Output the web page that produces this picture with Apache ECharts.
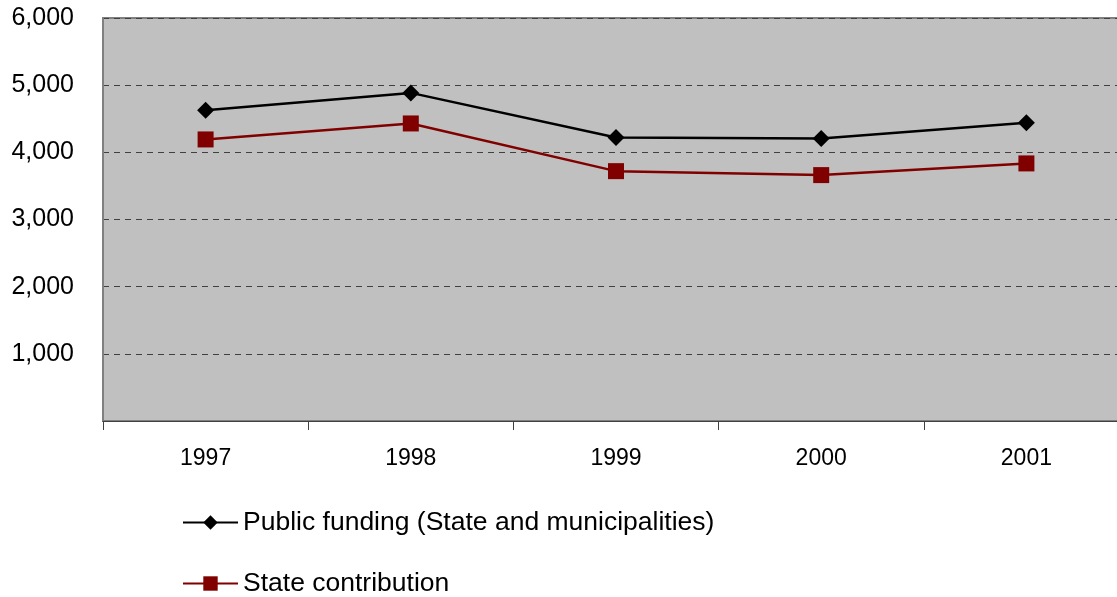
<!DOCTYPE html>
<html>
<head>
<meta charset="utf-8">
<script src="https://cdn.jsdelivr.net/npm/echarts@6/dist/echarts.min.js"></script>
<style>
html,body{margin:0;padding:0;background:#fff;}
#chart{width:1117px;height:597px;}
</style>
</head>
<body>
<div id="chart"></div>
<script>
const years = ['1997', '1998', '1999', '2000', '2001'];
const publicFunding = [4628, 4885, 4222, 4207, 4439];
const stateContribution = [4192, 4430, 3720, 3661, 3835];
const seriesNames = ['Public funding (State and municipalities)', 'State contribution'];

const chart = echarts.init(document.getElementById('chart'));
const font = 'Liberation Sans, Arial, sans-serif';
const legendCommon = {
  orient: 'vertical', left: 182, itemWidth: 55, itemHeight: 18, padding: 0,
  textStyle: { fontSize: 26.5, color: '#000', fontFamily: font }
};
chart.setOption({
  animation: false,
  textStyle: { fontFamily: font },
  grid: { left: 103, right: -12, top: 18, bottom: 176, outerBoundsMode: 'none', show: true, backgroundColor: '#C0C0C0', borderColor: '#808080', borderWidth: 2 },
  legend: [
    Object.assign({}, legendCommon, { top: 509, data: [seriesNames[0]] }),
    Object.assign({}, legendCommon, { top: 570, data: [seriesNames[1]] })
  ],
  xAxis: {
    type: 'category', data: years, boundaryGap: true,
    axisLine: { show: true, lineStyle: { color: '#404040', width: 1 } },
    axisTick: { show: true, length: 9, lineStyle: { color: '#404040' } },
    axisLabel: { fontSize: 23, color: '#000', margin: 26 },
    splitLine: { show: false }
  },
  yAxis: {
    type: 'value', min: 0, max: 6000, interval: 1000,
    axisLine: { show: true, lineStyle: { color: '#808080', width: 2 } },
    axisTick: { show: false },
    axisLabel: {
      fontSize: 25, color: '#000', margin: 29,
      formatter: v => v === 0 ? '' : v.toLocaleString('en-US')
    },
    splitLine: { show: true, lineStyle: { color: '#404040', type: [6, 5], width: 1 } }
  },
  series: [
    {
      name: seriesNames[0], type: 'line', data: publicFunding,
      symbol: 'diamond', symbolSize: 17,
      lineStyle: { color: '#000', width: 2.5 },
      itemStyle: { color: '#000' }
    },
    {
      name: seriesNames[1], type: 'line', data: stateContribution,
      symbol: 'rect', symbolSize: 16,
      lineStyle: { color: '#800000', width: 2.5 },
      itemStyle: { color: '#800000' }
    }
  ]
});
</script>
</body>
</html>
